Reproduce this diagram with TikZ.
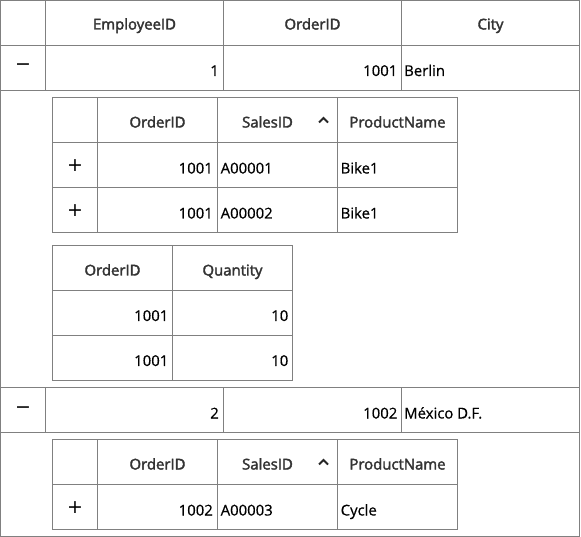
\documentclass[tikz,border=0pt]{standalone}
\usepackage{fontspec}
\setmainfont{Open Sans}[FakeBold=0.5]
\newfontface\headfont[FakeBold=2.4]{Open Sans}
\newfontface\iconfont{DejaVu Sans}
\definecolor{gridline}{HTML}{808080}
\definecolor{headtext}{HTML}{333333}
\newcommand\cellsize{\fontsize{14.9}{17}\selectfont}
\tikzstyle{grid} = [draw=gridline, line width=1pt]
\tikzstyle{head} = [font=\headfont\cellsize, text=headtext, anchor=base, inner sep=0pt]
\tikzstyle{num} = [font=\cellsize, anchor=base east, inner sep=0pt]
\tikzstyle{txt} = [font=\cellsize, anchor=base west, inner sep=0pt]
\tikzstyle{icon} = [font=\iconfont\fontsize{19}{22}\selectfont, inner sep=0pt]
\tikzstyle{caret} = [draw=black!85, line width=1.8pt]
\begin{document}
\begin{tikzpicture}[x=1pt, y=-1pt]
        \useasboundingbox (0,0) rectangle (581,537);
        \draw [grid] (0.5,0.5) rectangle (579.5,536.5);
        \draw [grid] (0.5,45.5) -- (579.5,45.5);
        \draw [grid] (0.5,90.5) -- (579.5,90.5);
        \draw [grid] (0.5,387.5) -- (579.5,387.5);
        \draw [grid] (0.5,432.5) -- (579.5,432.5);
        \draw [grid] (45.5,0.5) -- (45.5,90.5);
        \draw [grid] (223.5,0.5) -- (223.5,90.5);
        \draw [grid] (401.5,0.5) -- (401.5,90.5);
        \draw [grid] (45.5,387.5) -- (45.5,432.5);
        \draw [grid] (223.5,387.5) -- (223.5,432.5);
        \draw [grid] (401.5,387.5) -- (401.5,432.5);
        \node (emp) [head] at (134.5,29.5) {EmployeeID};
        \node (ord) [head] at (312.5,29.5) {OrderID};
        \node (city) [head] at (490.5,29.5) {City};
        \node (minusa) [icon] at (23,67.5) {−};
        \node (empa) [num] at (219,76) {1};
        \node (orda) [num] at (397.5,76) {1001};
        \node (citya) [txt] at (404,76) {Berlin};
        \node (minusb) [icon] at (23,410) {−};
        \node (empb) [num] at (219,418.5) {2};
        \node (ordb) [num] at (397.5,418.5) {1002};
        \node (cityb) [txt] at (404,418.5) {México D.F.};
        \draw [grid] (52.5,97.5) rectangle (457.5,232.5);
        \draw [grid] (52.5,142.5) -- (457.5,142.5);
        \draw [grid] (52.5,187.5) -- (457.5,187.5);
        \draw [grid] (97.5,97.5) -- (97.5,232.5);
        \draw [grid] (217.5,97.5) -- (217.5,232.5);
        \draw [grid] (337.5,97.5) -- (337.5,232.5);
        \node (sordh) [head] at (157.5,127.5) {OrderID};
        \node (ssalh) [head] at (267.5,127.5) {SalesID};
        \node (sprdh) [head] at (397.5,127.5) {ProductName};
        \draw [caret] (319,122.5) -- (323.5,118) -- (328,122.5);
        \node (plusa) [icon] at (75,165.5) {+};
        \node (sorda) [num] at (213,173.5) {1001};
        \node (ssala) [txt] at (220.5,173.5) {A00001};
        \node (sprda) [txt] at (340.5,173.5) {Bike1};
        \node (plusb) [icon] at (75,210.5) {+};
        \node (sordb) [num] at (213,218.5) {1001};
        \node (ssalb) [txt] at (220.5,218.5) {A00002};
        \node (sprdb) [txt] at (340.5,218.5) {Bike1};
        \draw [grid] (52.5,245.5) rectangle (292.5,380.5);
        \draw [grid] (52.5,290.5) -- (292.5,290.5);
        \draw [grid] (52.5,335.5) -- (292.5,335.5);
        \draw [grid] (172.5,245.5) -- (172.5,380.5);
        \node (qordh) [head] at (112.5,275.5) {OrderID};
        \node (qtyh) [head] at (232.5,275.5) {Quantity};
        \node (qorda) [num] at (168.5,321) {1001};
        \node (qtya) [num] at (288.5,321) {10};
        \node (qordb) [num] at (168.5,366) {1001};
        \node (qtyb) [num] at (288.5,366) {10};
        \draw [grid] (52.5,439.5) rectangle (457.5,529.5);
        \draw [grid] (52.5,484.5) -- (457.5,484.5);
        \draw [grid] (97.5,439.5) -- (97.5,529.5);
        \draw [grid] (217.5,439.5) -- (217.5,529.5);
        \draw [grid] (337.5,439.5) -- (337.5,529.5);
        \node (tordh) [head] at (157.5,469.5) {OrderID};
        \node (tsalh) [head] at (267.5,469.5) {SalesID};
        \node (tprdh) [head] at (397.5,469.5) {ProductName};
        \draw [caret] (319,464.5) -- (323.5,460) -- (328,464.5);
        \node (plusc) [icon] at (75,507.5) {+};
        \node (torda) [num] at (213,515.5) {1002};
        \node (tsala) [txt] at (220.5,515.5) {A00003};
        \node (tprda) [txt] at (340.5,515.5) {Cycle};
    \end{tikzpicture}
\end{document}
